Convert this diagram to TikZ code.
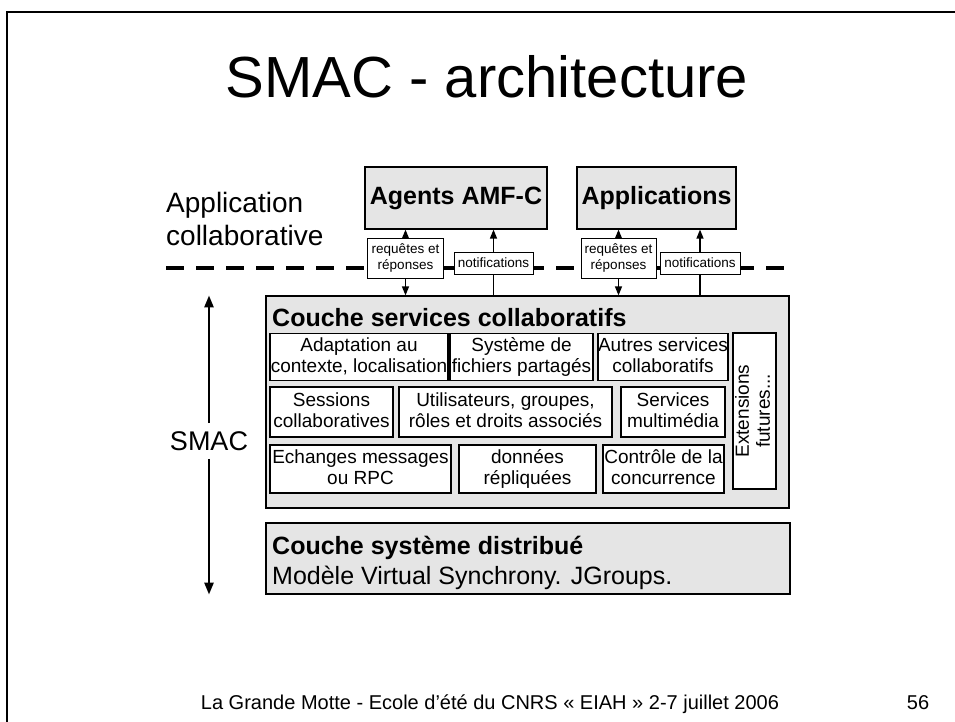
\documentclass[tikz,border=0pt]{standalone}
\usepackage{fontspec}
\setmainfont{Liberation Sans}
\usetikzlibrary{arrows.meta}
\definecolor{layergrey}{RGB}{229,229,229}
\tikzset{
  layerbox/.style={draw=black, line width=1.2pt, fill=layergrey, inner sep=0pt},
  servbox/.style={draw=black, line width=1.2pt, fill=white, inner sep=0pt, align=center, font=\fontsize{19}{21}\selectfont,
    execute at begin node={\rule{0pt}{16pt}}, execute at end node={\rule[-4pt]{0pt}{4pt}}},
  msgbox/.style={draw=black, line width=1pt, fill=white, inner sep=0pt, align=center, font=\fontsize{13.5}{16}\selectfont},
  msgarrow/.style={line width=1.3pt, -{Triangle[length=9pt,width=7pt]}},
  msgline/.style={line width=1.3pt},
  smacarrow/.style={line width=2.5pt, -{Triangle[length=12pt,width=9pt]}},
}

\begin{document}
\begin{tikzpicture}[x=1pt,y=-1pt]
			%%%%% START %%%%%
			
			\useasboundingbox (0,0) rectangle (955,722);
			\fill[white] (0,0) rectangle (955,722);
			\draw[line width=2pt] (7,722) -- (7,12) -- (955,12);
			
			\node[font=\fontsize{58}{60}\selectfont] (title) at (487,77) {SMAC - architecture};
			
			\node[anchor=west, align=left, inner sep=0pt, font=\fontsize{28}{33}\selectfont] (appli) at (166,219) {Application\\collaborative};
			
			\node[layerbox, minimum width=182pt, minimum height=62pt, font=\bfseries\fontsize{25}{30}\selectfont] (agents) at (456,198) {Agents AMF-C};
			\node[layerbox, minimum width=159pt, minimum height=62pt, font=\bfseries\fontsize{25}{30}\selectfont] (apps) at (656.5,198) {Applications};
			
			\coordinate (dashL) at (166,268);
			\coordinate (dashR) at (790,268);
			\draw[line width=4pt, dash pattern=on 18pt off 12pt] (dashL) -- (dashR);
			
			\node[msgbox, minimum width=76pt, minimum height=40pt] (req1) at (405.5,258) {requêtes et\\réponses};
			\node[msgbox, minimum width=79pt, minimum height=22pt] (notif1) at (493.5,263) {notifications};
			\node[msgbox, minimum width=75pt, minimum height=40pt] (req2) at (618.5,258) {requêtes et\\réponses};
			\node[msgbox, minimum width=80pt, minimum height=22pt] (notif2) at (700,263) {notifications};
			
			\node[layerbox, minimum width=523pt, minimum height=212pt] (svc) at (527.5,402) {};
			\node[anchor=west, inner sep=0pt, font=\bfseries\fontsize{25}{30}\selectfont] (svctitle) at (272,318) {Couche services collaboratifs};
			
			\draw[msgarrow] (req1.north) -- (req1.north |- agents.south);
			\draw[msgarrow] (req1.south) -- (req1.south |- svc.north);
			\draw[msgarrow] (notif1.north) -- (notif1.north |- agents.south);
			\draw[msgline] (notif1.south) -- (notif1.south |- svc.north);
			\draw[msgarrow] (req2.north) -- (req2.north |- apps.south);
			\draw[msgarrow] (req2.south) -- (req2.south |- svc.north);
			\draw[msgarrow] (notif2.north) -- (notif2.north |- apps.south);
			\draw[msgline] (notif2.south) -- (notif2.south |- svc.north);
			
			\node[servbox, minimum width=178pt, minimum height=47pt] (adapt) at (359,357) {Adaptation au\\contexte, localisation};
			\node[servbox, minimum width=143pt, minimum height=47pt] (fichiers) at (521.5,357) {Système de\\fichiers partagés};
			\node[servbox, minimum width=130pt, minimum height=47pt] (autres) at (663,357) {Autres services\\collaboratifs};
			
			\node[servbox, minimum width=123pt, minimum height=50pt] (sessions) at (331.5,412) {Sessions\\collaboratives};
			\node[servbox, minimum width=213pt, minimum height=50pt] (users) at (505.5,412) {Utilisateurs, groupes,\\rôles et droits associés};
			\node[servbox, minimum width=104pt, minimum height=50pt] (multi) at (673,412) {Services\\multimédia};
			
			\node[servbox, minimum width=181pt, minimum height=48pt] (echanges) at (360.5,469) {Echanges messages\\ou RPC};
			\node[servbox, minimum width=137pt, minimum height=48pt] (donnees) at (527.5,469) {données\\répliquées};
			\node[servbox, minimum width=121pt, minimum height=48pt] (controle) at (663.5,469) {Contrôle de la\\concurrence};
			
			\node[servbox, rotate=90, minimum width=156pt, minimum height=43pt] (ext) at (754.5,411) {Extensions\\futures...};
			
			\node[layerbox, minimum width=524pt, minimum height=71pt] (dist) at (528,558.5) {};
			\node[anchor=west, align=left, inner sep=0pt, font=\fontsize{25}{30}\selectfont] (disttxt) at (272,563) {\textbf{Couche système distribué}\\Modèle Virtual Synchrony. JGroups.};
			
			\node[fill=white, inner xsep=0pt, inner ysep=8pt, font=\fontsize{27}{30}\selectfont] (smac) at (209,441) {SMAC};
			\draw[smacarrow] (smac.north) -- (smac.north |- svc.north);
			\draw[smacarrow] (smac.south) -- (smac.south |- dist.south);
			
			\node[anchor=base, font=\fontsize{20}{24}\selectfont] (footer) at (490,709) {La Grande Motte - Ecole d'été du CNRS « EIAH » 2-7 juillet 2006};
			\node[anchor=base, font=\fontsize{20}{24}\selectfont] (pagenum) at (918,709) {56};
			
			%%%%% END %%%%%
\end{tikzpicture}
\end{document}
